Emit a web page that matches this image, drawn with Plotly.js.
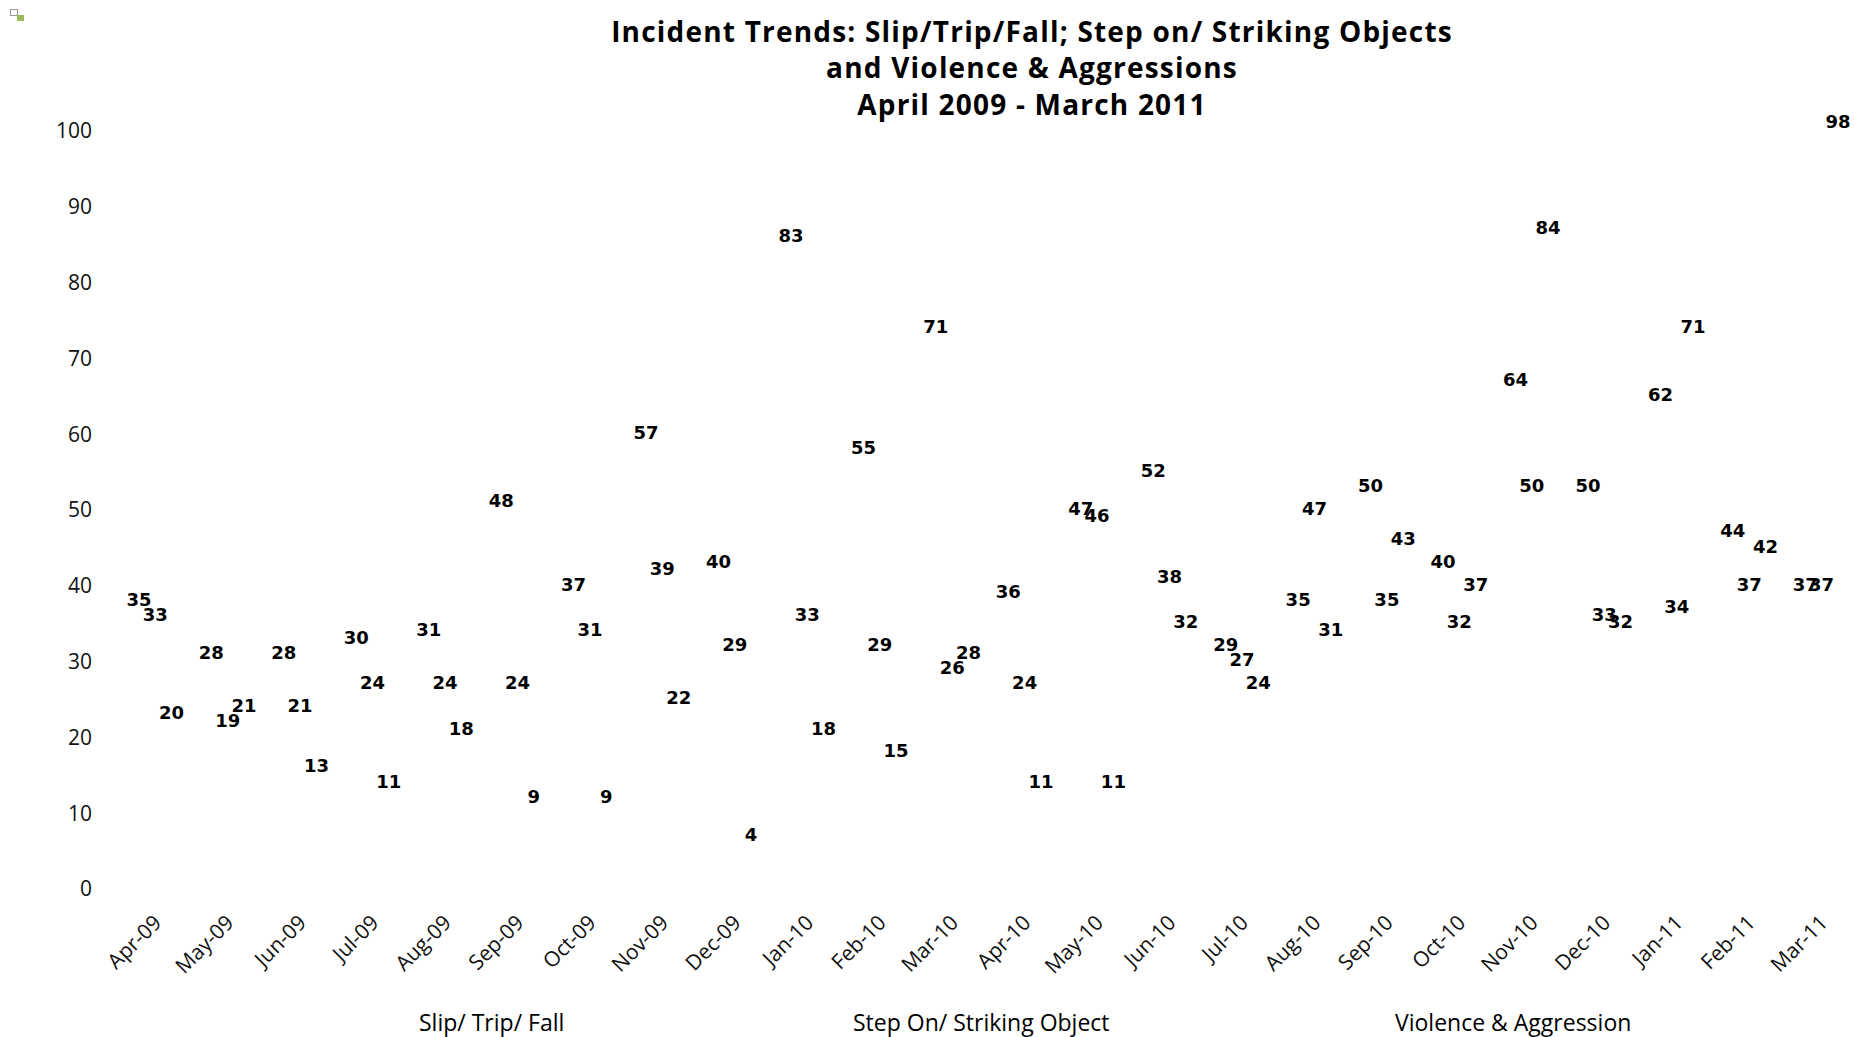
<!DOCTYPE html>
<html><head><meta charset="utf-8">
<script src="https://cdn.plot.ly/plotly-3.0.1.min.js"></script>
<style>
html,body{margin:0;padding:0;background:#fff;}
#wrap{position:relative;width:1854px;height:1037px;}
#chart{width:1854px;height:1037px;}
#chart .gtitle{letter-spacing:1.2px;}
.ico1{position:absolute;left:10px;top:9px;width:6px;height:5px;border:1.5px solid #9a9a9a;background:#fff;}
.ico2{position:absolute;left:17px;top:15px;width:7px;height:6px;background:#9bbb59;}
</style>
</head><body>
<div id="wrap">
<div id="chart"></div>
<div class="ico1"></div><div class="ico2"></div>
</div>
<script>
const months = ['Apr-09','May-09','Jun-09','Jul-09','Aug-09','Sep-09','Oct-09','Nov-09','Dec-09','Jan-10','Feb-10','Mar-10','Apr-10','May-10','Jun-10','Jul-10','Aug-10','Sep-10','Oct-10','Nov-10','Dec-10','Jan-11','Feb-11','Mar-11'];
const slipTripFall       = [35,28,28,30,31,48,37,57,40,83,55,71,36,47,52,29,35,50,40,64,50,62,44,37];
const stepOnStriking     = [33,19,21,24,24,24,31,39,29,33,29,26,24,46,38,27,47,35,32,50,33,34,37,37];
const violenceAggression = [20,21,13,11,18, 9, 9,22, 4,18,15,28,11,11,32,24,31,43,37,84,32,71,42,98];
const seriesNames = ['Slip/ Trip/ Fall','Step On/ Striking Object','Violence & Aggression'];
const yTicks = [0,10,20,30,40,50,60,70,80,90,100];

const seriesData = [slipTripFall, stepOnStriking, violenceAggression];
const legendIds = ['legend','legend2','legend3'];

const barTraces = seriesData.map((vals,i)=>({
  type:'bar', x:months, y:vals, name:seriesNames[i],
  marker:{color:'rgba(0,0,0,0)'}, legend:legendIds[i], hoverinfo:'skip', showlegend:true
}));
const labelTraces = seriesData.map((vals,i)=>({
  type:'scatter', mode:'markers+text', x:months, y:vals, text:vals.map(String),
  textposition:'top center',
  textfont:{family:'DejaVu Sans', size:18, color:'#000', weight:'bold'},
  marker:{size:20, opacity:0}, showlegend:false, cliponaxis:false, hoverinfo:'skip'
}));

const W = 1854, H = 1037;
function legendAt(px){
  return {orientation:'h', xref:'container', yref:'container', x:px/W, xanchor:'left',
    y:15/H, yanchor:'middle', bgcolor:'rgba(0,0,0,0)',
    font:{family:'Open Sans', size:23, color:'#000'}};
}

const layout = {
  width:W, height:H,
  margin:{l:119, r:0, t:131, b:148, pad:0},
  paper_bgcolor:'#fff', plot_bgcolor:'#fff',
  barmode:'group', bargap:0.325, bargroupgap:0,
  scattermode:'group', scattergap:0.325,
  title:{
    text:'Incident Trends: Slip/Trip/Fall; Step on/ Striking Objects<br>and Violence & Aggressions<br>April 2009 - March 2011',
    xref:'container', x:1032/W, xanchor:'center',
    yref:'container', y:1-42/H, yanchor:'top',
    font:{family:'Open Sans', size:28, color:'#000', weight:'bold'}
  },
  xaxis:{type:'category', range:[-0.5, 23.447], tickangle:-45, showline:false, showgrid:false,
    zeroline:false, ticks:'', tickfont:{family:'Open Sans', size:21, color:'#111'},
    ticklabelstandoff:16, fixedrange:true},
  yaxis:{range:[0,100], tickmode:'array', tickvals:yTicks, showgrid:false, zeroline:false, showline:false,
    ticks:'', tickfont:{family:'Open Sans', size:21, color:'#111'}, ticklabelstandoff:26, fixedrange:true},
  legend:legendAt(379),
  legend2:legendAt(813),
  legend3:legendAt(1355),
  showlegend:true
};

Plotly.newPlot('chart', barTraces.concat(labelTraces), layout, {displayModeBar:false, staticPlot:true});
</script>
</body></html>
